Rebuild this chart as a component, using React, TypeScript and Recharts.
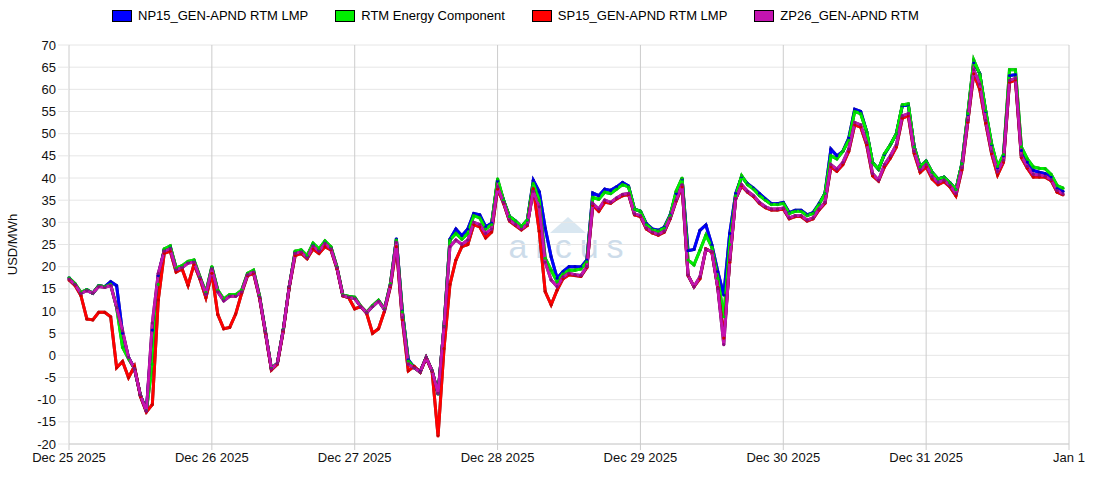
import { LineChart, Line, XAxis, YAxis, CartesianGrid } from "recharts";

// hourly values, Dec 25 00:00 .. Dec 31 23:00
const np15 = [
  17.5, 16, 14, 14.8, 14, 15.7, 15.5, 16.6, 15.7, 5, -0.5, -3, -9, -12.5, 5.7, 18, 23.8, 24.5, 19.5, 20, 21, 21.3, 17.5, 14,
  19.8, 14.5, 12.5, 13.5, 13.5, 14.5, 18.3, 19, 13.3, 5.3, -3, -1.8, 5.8, 15.5, 23.3, 23.6, 22.3, 25, 23.8, 25.6, 24.3, 19.9, 13.6, 13.2,
  13, 11, 9.6, 11.1, 12.3, 10.4, 16, 26.3, 10, -1, -2.8, -3.6, -0.5, -3.5, -8.7, 6.5, 26.2, 28.5, 27, 28.5, 32, 31.7, 29, 29.8,
  39.3, 35, 31.3, 30.3, 29, 30.5, 39.5, 36.9, 28.7, 22.2, 17.4, 18.9, 20, 20, 19.9, 21.5, 36.6, 36, 37.5, 37.2, 38, 39, 38.2, 33,
  32.5, 29.7, 28.5, 28.2, 28.9, 31.7, 36.5, 39.8, 23.6, 23.9, 28.2, 29.4, 24.9, 18.9, 13.6, 27.5, 36.5, 40.3, 38.7, 37.7, 36.5, 35.3, 34.2, 34.2,
  34.5, 32.2, 32.7, 32.7, 31.7, 32.2, 34.2, 36.5, 46.5, 45, 46, 49, 55.5, 55, 50.5, 43.5, 42, 45.3, 47.5, 50, 56.3, 56.5, 47, 42.5,
  43.8, 41.3, 39.8, 40.2, 38.9, 37.4, 43.2, 54.3, 66, 63.6, 55, 47.5, 42.3, 45, 63.1, 63.3, 46.2, 43.6, 41.7, 41.3, 41, 40.2, 37.6, 37,
];
const rtmEnergy = [
  17.5, 16.2, 14.2, 14.8, 14, 15.7, 15.5, 16, 10.8, 1.8, -0.8, -3, -9, -12.5, -2, 16, 24, 24.7, 19.7, 20.2, 21.2, 21.5, 17.7, 14.2,
  20, 14.7, 12.7, 13.7, 13.7, 14.7, 18.5, 19.2, 13.5, 5.3, -3, -1.8, 5.8, 15.5, 23.5, 23.8, 22.5, 25.3, 24, 25.8, 24.5, 20, 13.7, 13.3,
  13.1, 11.1, 9.7, 11.2, 12.4, 10.5, 16.2, 26, 9.8, -1.3, -2.8, -3.8, -0.5, -3.5, -8.7, 6.5, 26, 27.5, 26.2, 27.5, 31.5, 31, 28.5, 29.5,
  39.8, 35, 31.3, 30.3, 29, 30.5, 38.8, 35, 21.9, 19.2, 16.6, 18.4, 19.2, 19.2, 19.5, 21.1, 35.6, 35.2, 36.8, 36.5, 37.5, 38.5, 38, 33,
  32.5, 29.5, 28.3, 28, 28.7, 31.5, 37, 40, 21.5, 20.4, 23.7, 27.1, 24.4, 17.4, 8.7, 25, 36, 40.5, 38.5, 37.5, 36, 35, 34, 34,
  34.3, 32, 32.5, 32.5, 31.5, 32, 34, 36.5, 45, 44.3, 46, 48.5, 55, 54.5, 50.5, 43.5, 42, 45.5, 47.5, 50, 56.5, 56.7, 47, 42.5,
  43.8, 41.3, 39.8, 40.2, 38.9, 37.4, 43.2, 54.5, 66.6, 63.5, 55.2, 47.7, 42.6, 45.3, 64.4, 64.4, 47, 44.3, 42.5, 42.2, 42.1, 40.8, 38.3, 37.7,
];
const sp15 = [
  17, 15.8, 13.5, 8.2, 8, 9.7, 9.7, 8.7, -2.8, -1.4, -5, -2.5, -9.3, -12.8, -11.1, 12.5, 23, 23.5, 18.8, 19.5, 15.8, 20.5, 17.2, 13,
  18.5, 9.2, 6, 6.3, 9.3, 14, 18, 18.5, 13, 5, -3.3, -2, 5.5, 15.3, 22.5, 23, 21.8, 24, 23, 24.5, 23.8, 19.6, 13.4, 13,
  10.5, 11, 9.5, 5, 6, 10, 15.5, 24.5, 8, -3.5, -2.5, -3.8, -0.6, -3.6, -18.2, 1.5, 16, 21.5, 24.5, 25, 29.5, 29, 26.5, 27.8,
  37.5, 34.3, 30.3, 29.3, 28.3, 29.3, 37.6, 28, 14.4, 11.4, 14.7, 17.3, 18.2, 18, 17.8, 19.8, 33.8, 32.5, 34.5, 34.3, 35.3, 36, 36.3, 31.7,
  31.3, 28.5, 27.6, 27.1, 27.8, 30.8, 34.8, 38, 18, 15.5, 17.3, 24, 23.3, 15.3, 3.9, 21, 35.3, 38.2, 36.8, 35.8, 34.3, 33.3, 32.8, 32.8,
  33, 30.8, 31.3, 31.3, 30.3, 30.8, 32.8, 34.3, 42.5, 41.5, 43, 46, 52, 51.5, 47.5, 40.5, 39.3, 42.5, 44.5, 47, 53.5, 54, 45.5, 41.3,
  42.5, 39.8, 38.5, 39.2, 38, 36, 41.8, 52.6, 63.5, 60, 52.4, 45.5, 40.7, 43.6, 61.6, 62.1, 44.6, 42.2, 40.2, 40.2, 40.2, 39.4, 36.8, 36.2,
];
const zp26 = [
  17.2, 16, 14, 14.6, 14, 15.5, 15.3, 15.8, 10.8, 5.5, -0.5, -3, -9, -12.6, 7.3, 18.5, 23.5, 24, 19.3, 19.8, 20.8, 21, 17.5, 13.8,
  19.5, 14.3, 12.3, 13.3, 13.3, 14.3, 18.2, 18.8, 13.2, 5.2, -3.1, -1.8, 5.7, 15.5, 23, 23.3, 22, 24.6, 23.5, 25.2, 24, 19.8, 13.5, 13.1,
  12.8, 11, 9.6, 11, 12.2, 10.3, 15.8, 25.5, 8.5, -2, -2.8, -3.8, -0.5, -3.5, -8.6, 6.4, 24.5, 26, 25, 26, 30, 29.5, 27.5, 28.5,
  38, 34.5, 30.5, 29.5, 28.5, 29.5, 37, 33.5, 21, 17, 15.5, 17.7, 18.5, 18.2, 18, 20, 34.2, 33, 35, 34.5, 35.5, 36.3, 36.5, 31.9,
  31.5, 28.7, 27.8, 27.3, 28, 31, 35, 38.5, 18.1, 15.5, 17.7, 23.9, 23.4, 15.1, 2.4, 21.5, 35.3, 38.5, 37, 36, 34.5, 33.5, 33, 33,
  33.2, 31, 31.5, 31.5, 30.5, 31, 33, 34.5, 43, 42, 43.5, 46.5, 52.5, 52, 48, 41, 39.5, 43, 45, 47.5, 54, 54.5, 46, 41.8,
  43, 40.3, 39, 39.5, 38.3, 36.5, 42.3, 53, 64.4, 61.2, 53, 46, 41.5, 44, 62, 62.5, 45, 42.6, 40.8, 40.7, 40.4, 39.6, 37.2, 36.4,
];

const dayTicks = [0, 24, 48, 72, 96, 120, 144, 168];
const dayLabels = ["Dec 25 2025", "Dec 26 2025", "Dec 27 2025", "Dec 28 2025", "Dec 29 2025", "Dec 30 2025", "Dec 31 2025", "Jan 1"];
const yTicks = [-20, -15, -10, -5, 0, 5, 10, 15, 20, 25, 30, 35, 40, 45, 50, 55, 60, 65, 70];

const series = [
  { key: "np15", name: "NP15_GEN-APND RTM LMP", color: "#0000ff", dot: "#0000c8" },
  { key: "rtm", name: "RTM Energy Component", color: "#00ee00", dot: "#00c800" },
  { key: "sp15", name: "SP15_GEN-APND RTM LMP", color: "#ff0000", dot: "#cc0000" },
  { key: "zp26", name: "ZP26_GEN-APND RTM", color: "#c414b0", dot: "#8c0c80" },
];

const data = np15.map((v, i) => ({
  h: i,
  np15: v,
  rtm: rtmEnergy[i],
  sp15: sp15[i],
  zp26: zp26[i],
}));

const font = '"Liberation Sans", Arial, sans-serif';

export default function App() {
  return (
    <div style={{ position: "relative", width: 1100, height: 500, fontFamily: font, background: "#fff" }}>
      <style>{`body{margin:0} .recharts-line-curve{filter:drop-shadow(0 0 0.6px rgba(0,0,0,0.75))}`}</style>

      {/* watermark */}
      <svg width={1100} height={500} style={{ position: "absolute", left: 0, top: 0 }}>
        <polygon points="550,233 568,217 586,233" fill="#d9e7f1" />
        <text x={570} y={258} textAnchor="middle" fontSize={34} fill="#cddcea" letterSpacing={8} fontFamily={font}>
          arcus
        </text>
        <text x={572} y={270} textAnchor="middle" fontSize={7} fill="#e4ecf3" letterSpacing={3} fontFamily={font}>
          POWER
        </text>
      </svg>

      {/* legend */}
      <div
        style={{
          position: "absolute",
          left: 112,
          top: 8,
          display: "flex",
          alignItems: "center",
          fontSize: 13,
          color: "#000",
          zIndex: 2,
        }}
      >
        {series.map((s) => (
          <div key={s.key} style={{ display: "flex", alignItems: "center", marginRight: 27 }}>
            <span
              style={{
                display: "inline-block",
                width: 18,
                height: 10,
                background: s.color,
                border: "1px solid #000",
                marginRight: 6,
              }}
            />
            <span>{s.name}</span>
          </div>
        ))}
      </div>

      <div style={{ position: "absolute", left: 0, top: 0 }}>
        <LineChart width={1100} height={500} data={data} margin={{ top: 45, right: 31, bottom: 0, left: 0 }}>
          <CartesianGrid horizontal={true} vertical={false} stroke="#e6e6e6" />
          <CartesianGrid horizontal={false} vertical={true} stroke="#cccccc" />
          <XAxis
            dataKey="h"
            type="number"
            domain={[0, 168]}
            ticks={dayTicks}
            tickFormatter={(v: number) => dayLabels[dayTicks.indexOf(v)]}
            height={56}
            interval={0}
            stroke="#cccccc"
            tickSize={6}
            tickMargin={3}
            tick={{ fill: "#111", fontSize: 13, fontFamily: font }}
          />
          <YAxis
            type="number"
            domain={[-20, 70]}
            ticks={yTicks}
            width={69}
            axisLine={false}
            tickLine={{ stroke: "#e6e6e6" }}
            tickSize={11}
            tickMargin={2}
            interval={0}
            tick={{ fill: "#111", fontSize: 13, fontFamily: font }}
            label={{
              value: "USD/MWh",
              angle: -90,
              position: "insideLeft",
              offset: 12,
              style: { textAnchor: "middle", fill: "#111", fontSize: 13, fontFamily: font },
            }}
          />
          {series.map((s) => (
            <Line
              key={s.key}
              type="linear"
              dataKey={s.key}
              name={s.name}
              stroke={s.color}
              strokeWidth={3}
              dot={{ r: 1.6, fill: s.dot, stroke: "none" }}
              activeDot={false}
              isAnimationActive={false}
            />
          ))}
        </LineChart>
      </div>
    </div>
  );
}
